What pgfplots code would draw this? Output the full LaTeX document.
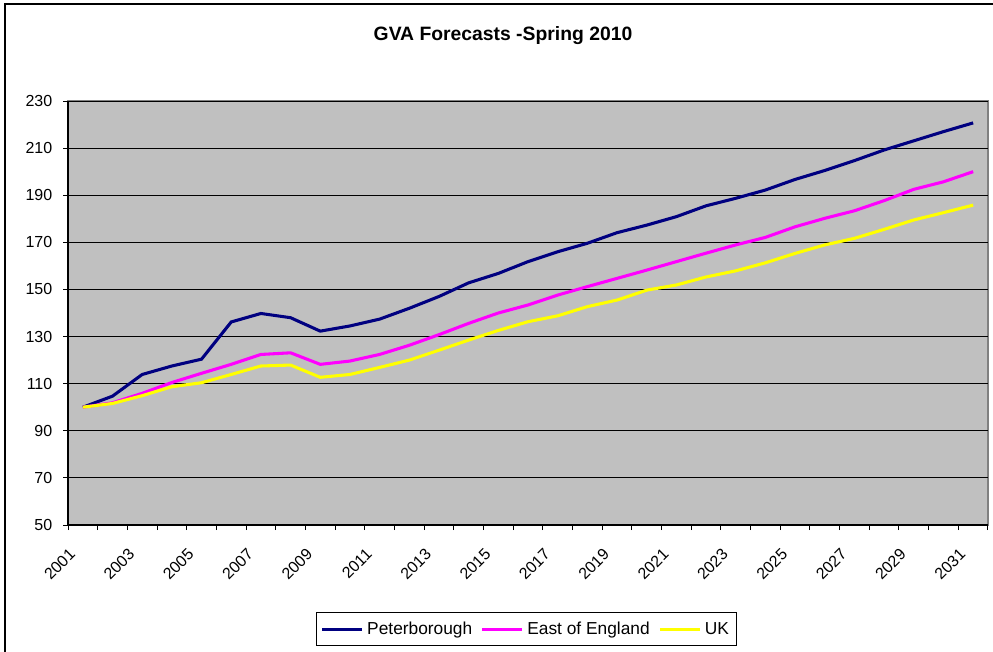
\documentclass[border=0pt]{standalone}
\usepackage{pgfplots}
\pgfplotsset{compat=1.18}
\usepackage{pgfplotstable}
\usepackage{fontspec}
\setmainfont{Liberation Sans}
\definecolor{plotbg}{HTML}{C0C0C0}
\definecolor{pnavy}{HTML}{000080}
\definecolor{pmag}{HTML}{FF00FF}
\definecolor{pyel}{HTML}{FFFF00}
\definecolor{bordergray}{HTML}{808080}

\pgfplotstableread{
year pet east uk
2001 100.0 100.0 100.0
2002 104.7 101.9 101.6
2003 113.9 105.9 104.9
2004 117.5 110.5 108.7
2005 120.4 114.4 110.4
2006 136.2 118.2 113.9
2007 139.8 122.4 117.5
2008 138.0 123.1 117.9
2009 132.3 118.2 112.7
2010 134.5 119.6 113.9
2011 137.4 122.4 116.9
2012 142.0 126.3 120.0
2013 147.0 130.8 124.2
2014 152.8 135.6 128.5
2015 156.8 140.0 132.6
2016 161.8 143.4 136.3
2017 166.0 147.6 138.8
2018 169.6 151.2 142.7
2019 174.1 154.7 145.5
2020 177.3 158.2 149.7
2021 180.9 161.8 151.9
2022 185.5 165.4 155.3
2023 188.7 168.9 157.9
2024 192.2 172.1 161.3
2025 196.7 176.6 165.3
2026 200.5 180.2 168.9
2027 204.7 183.4 171.7
2028 209.2 187.7 175.5
2029 213.1 192.5 179.5
2030 217.0 195.7 182.6
2031 220.7 200.0 185.8
}\gva

\begin{document}
\begin{tikzpicture}
\useasboundingbox (0pt,0pt) rectangle (744.75pt,-489pt);
\draw[line width=1.5pt] (3.75pt,-489pt) -- (3.75pt,-3pt) -- (744.75pt,-3pt);
\node[font=\fontsize{14.5}{17}\selectfont\bfseries] at (377.25pt,-27pt) {GVA Forecasts -Spring 2010};
\begin{axis}[
  at={(51pt,-393.75pt)}, anchor=south west,
  scale only axis, width=690pt, height=318pt,
  xmin=2000.5, xmax=2031.5, ymin=50, ymax=230,
  axis x line*=bottom, axis y line*=left,
  axis line style={black, line width=0.9pt},
  axis background/.style={fill=plotbg, draw=bordergray, line width=1pt},
  ytick={50,70,...,230},
  ymajorgrids, major grid style={black, line width=0.7pt},
  xtick={2000.5,2001.5,...,2031.5},
  xticklabels={},
  extra x ticks={2001,2003,...,2031},
  extra x tick style={major tick length=0pt, grid=none},
  extra x tick labels={2001,2003,2005,2007,2009,2011,2013,2015,2017,2019,2021,2023,2025,2027,2029,2031},
  tick align=outside, major tick length=3.75pt,
  tick style={black, line width=0.7pt},
  /pgf/number format/assume math mode=true,
  /pgf/number format/1000 sep={},
  tick label style={font=\fontsize{12}{14}\selectfont},
  yticklabel style={xshift=-4.5pt},
  xticklabel style={xshift=-11pt, yshift=-12pt, rotate=45, anchor=north east},
  legend style={at={(0.4984,-0.205)}, anchor=north, draw=black, line width=0.8pt,
    font=\fontsize{13}{15}\selectfont, legend columns=3, inner ysep=5pt, inner xsep=3pt,
    nodes={inner xsep=2.5pt},
    /tikz/every even column/.append style={column sep=4pt}},
  legend image code/.code={\draw[#1] (0pt,0pt) -- (30pt,0pt);},
]
\addplot[pnavy, line width=2.3pt] table[x=year, y=pet] {\gva};
\addlegendentry{Peterborough}
\addplot[pmag, line width=2.3pt] table[x=year, y=east] {\gva};
\addlegendentry{East of England}
\addplot[pyel, line width=2.3pt] table[x=year, y=uk] {\gva};
\addlegendentry{UK}
\end{axis}
\end{tikzpicture}
\end{document}
